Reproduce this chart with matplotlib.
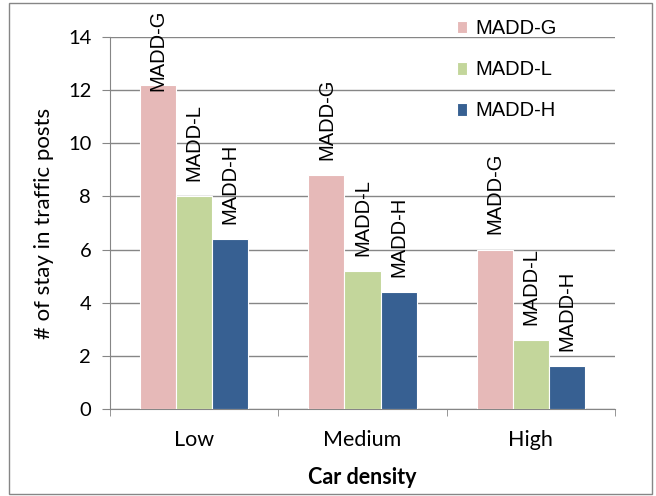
import matplotlib
matplotlib.use("Agg")
import matplotlib.pyplot as plt
import numpy as np
from matplotlib.patches import Rectangle

categories = ["Low", "Medium", "High"]
series_names = ["MADD-G", "MADD-L", "MADD-H"]
madd_g = [12.2, 8.8, 6.0]
madd_l = [8.0, 5.2, 2.6]
madd_h = [6.4, 4.4, 1.6]
y_ticks = [0, 2, 4, 6, 8, 10, 12, 14]

colors = ["#E6B9B8", "#C3D69B", "#376092"]
axis_font = "Lato"
label_font = "Liberation Sans"

fig = plt.figure(figsize=(6.56, 4.96), dpi=100)
ax = fig.add_axes([110/656, 1-409/496, (615-110)/656, (409-37)/496])

x = np.arange(len(categories))
w = 0.214
offsets = [-w, 0, w]
series = [madd_g, madd_l, madd_h]
texts = []
for vals, off, col, name in zip(series, offsets, colors, series_names):
    ax.bar(x + off, vals, width=w, color=col, edgecolor="white",
           linewidth=0.8, label=name, zorder=3)
    for xi, v in zip(x + off, vals):
        t = ax.annotate(name, xy=(xi, v), xytext=(0, 11), textcoords="offset points",
                        rotation=90, ha="center", va="bottom", fontsize=14.5,
                        family=label_font, zorder=4, annotation_clip=False)
        texts.append(t)

ax.set_xlim(-0.5, 2.5)
ax.set_ylim(0, 14)
ax.set_yticks(y_ticks)
ax.set_yticklabels([str(v) for v in y_ticks], family=axis_font, fontsize=14.5)
ax.set_xticks(x)
ax.set_xticklabels(categories, family=axis_font, fontsize=15.5)
ax.set_xticks([-0.5, 0.5, 1.5, 2.5], minor=True)
ax.tick_params(axis="x", which="major", length=0, pad=15)
ax.tick_params(axis="x", which="minor", length=5, color="#868686", direction="out")
ax.tick_params(axis="y", which="major", length=5.5, color="#868686", pad=8)
ax.grid(axis="y", color="#868686", linewidth=1.0, zorder=0)
for s in ["top", "right"]:
    ax.spines[s].set_visible(False)
ax.spines["left"].set_color("#868686")
ax.spines["bottom"].set_color("#868686")

ax.set_ylabel("# of stay in traffic posts", family=axis_font, fontsize=16, labelpad=10)
ax.set_xlabel("Car density", family=axis_font, fontsize=15.5, fontweight="bold", labelpad=12)

leg = ax.legend(loc="upper left", bbox_to_anchor=(441/656, 1-3/496), bbox_transform=fig.transFigure,
                frameon=False, prop={"family": label_font, "size": 14.5}, borderpad=0.3,
                handlelength=0.5, handleheight=0.6, labelspacing=1.1, handletextpad=0.4)

# keep rotated labels inside the figure (as the original does)
fig.canvas.draw()
renderer = fig.canvas.get_renderer()
top_limit = 496 - 10
for t in texts:
    bb = t.get_window_extent(renderer)
    if bb.y1 > top_limit:
        shift_pt = (bb.y1 - top_limit) * 72 / fig.dpi
        ox, oy = t.xyann
        t.xyann = (ox, oy - shift_pt)

fig.patches.append(Rectangle((9/656, 2/496), 643/656, 491/496, transform=fig.transFigure,
                             fill=False, edgecolor="#868686", linewidth=1.0))

fig.savefig("out.png", dpi=100)
